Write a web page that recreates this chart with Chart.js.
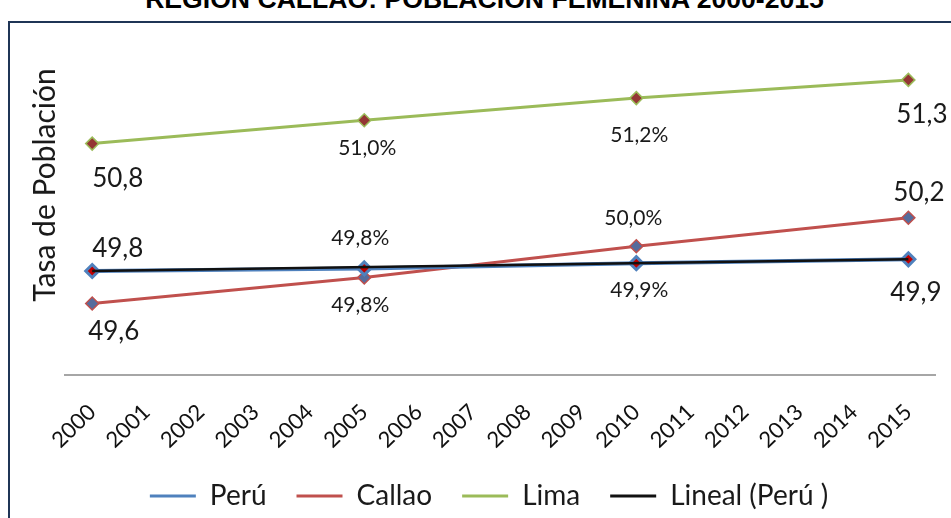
<!DOCTYPE html>
<html>
<head>
<meta charset="utf-8">
<script src="https://cdn.jsdelivr.net/npm/chart.js@4"></script>
<style>
  html, body { margin:0; padding:0; background:#fff; overflow:hidden; }
  #wrap  { position:relative; width:951px; height:518px; }
  #title { position:absolute; left:9px; width:951px; top:-14px; text-align:center; white-space:nowrap;
           font:bold 26.6px "Liberation Sans", Arial, sans-serif; line-height:26px; color:#000; }
  #frame { position:absolute; left:8px; top:21px; width:960px; height:520px;
           border-left:2px solid #1f3556; border-top:2px solid #1f3556; }
  #chart { position:absolute; left:0; top:0; }
</style>
</head>
<body>
<div id="wrap">
  <div id="title">REGIÓN CALLAO: POBLACIÓN FEMENINA 2000-2015</div>
  <div id="frame"></div>
  <canvas id="chart" width="951" height="518"></canvas>
</div>
<script>
/* data: markers only on 2000, 2005, 2010, 2015 */
const YEARS  = ["2000","2001","2002","2003","2004","2005","2006","2007",
                "2008","2009","2010","2011","2012","2013","2014","2015"];
const PERU   = [49.80,null,null,null,null,49.82,null,null,null,null,49.86,null,null,null,null,49.89];
const CALLAO = [49.55,null,null,null,null,49.75,null,null,null,null,49.99,null,null,null,null,50.21];
const LIMA   = [50.78,null,null,null,null,50.96,null,null,null,null,51.13,null,null,null,null,51.27];
const LINEAL = [49.80,null,null,null,null,null,null,null,null,null,null,null,null,null,null,49.89];

// printed value labels, one per marker
const PERU_TXT   = ["49,8", "49,8%", "49,9%", "49,9"];
const CALLAO_TXT = ["49,6", "49,8%", "50,0%", "50,2"];
const LIMA_TXT   = ["50,8", "51,0%", "51,2%", "51,3"];

const FONT = "Lato, 'Open Sans', sans-serif";

// draws the value labels next to each marker
const valueLabels = {
  id: "valueLabels",
  afterDatasetsDraw(chart, args, opts) {
    const ctx = chart.ctx;
    ctx.save();
    ctx.fillStyle = "#1a1a1a";
    ctx.textBaseline = "middle";
    opts.sets.forEach(set => {
      const meta = chart.getDatasetMeta(set.ds);
      const vals = chart.data.datasets[set.ds].data;
      let k = 0;
      meta.data.forEach((pt, i) => {
        if (vals[i] == null) return;
        const txt = set.text[k];
        const pct = txt.endsWith("%");
        ctx.font = (pct ? "21px " : "26px ") + FONT;
        ctx.textAlign = set.align[k];
        ctx.fillText(txt, pt.x + set.dx[k], pt.y + set.dy[k]);
        k++;
      });
    });
    ctx.restore();
  }
};

// y title sits above centre in the original, so draw it by hand
const yTitle = {
  id: "yTitle",
  afterDraw(chart) {
    const {ctx, chartArea} = chart;
    ctx.save();
    ctx.translate(chartArea.left - 20, chartArea.top + 135);
    ctx.rotate(-Math.PI / 2);
    ctx.font = "30px " + FONT;
    ctx.fillStyle = "#1a1a1a";
    ctx.textAlign = "center";
    ctx.textBaseline = "middle";
    ctx.fillText("Tasa de Población", 0, 0);
    ctx.restore();
  }
};

const line = (label, data, color, extra) => Object.assign({
  label, data, borderColor: color, backgroundColor: color, borderWidth: 3,
  spanGaps: true, tension: 0, fill: false, order: 1,
  pointStyle: "rectRot", pointRadius: 6.5, pointHoverRadius: 6.5
}, extra);

new Chart(document.getElementById("chart"), {
  type: "line",
  data: {
    labels: YEARS,
    datasets: [
      line("Perú", PERU, "#4F81BD",
        {borderWidth: 4, pointBackgroundColor: "#C00000", pointBorderColor: "#4F81BD", pointBorderWidth: 3}),
      line("Callao", CALLAO, "#C0504D",
        {pointBackgroundColor: "#566C9C", pointBorderColor: "#C0504D", pointBorderWidth: 1.5}),
      line("Lima", LIMA, "#9BBB59",
        {pointBackgroundColor: "#943634", pointBorderColor: "#9BBB59", pointBorderWidth: 1.5}),
      line("Lineal (Perú )", LINEAL, "#111111",
        {borderWidth: 2.5, pointRadius: 0, pointHoverRadius: 0, order: 0}),
    ]
  },
  options: {
    responsive: false,
    animation: false,
    events: [],
    layout: { padding: { top: 50, left: 30, right: 3, bottom: -2 } },
    scales: {
      x: {
        offset: true,
        grid: { display: false, drawTicks: false },
        border: { display: true, color: "#A6A6A6", width: 2 },
        ticks: { color: "#111", font: { family: FONT, size: 22 }, padding: 24,
                 minRotation: 44, maxRotation: 44, autoSkip: false },
        afterFit: s => { s.height = 77; }
      },
      y: {
        min: 49, max: 51.5,
        grid: { display: false, drawTicks: false },
        border: { display: false },
        ticks: { display: false },
        afterFit: s => { s.width = 35; }
      }
    },
    plugins: {
      title: { display: false },
      tooltip: { enabled: false },
      legend: {
        position: "bottom",
        labels: {
          color: "#1a1a1a", font: { family: FONT, size: 28 },
          boxWidth: 46, boxHeight: 3, padding: 30,
          sort: (a, b) => a.datasetIndex - b.datasetIndex,
          generateLabels: chart => Chart.defaults.plugins.legend.labels.generateLabels(chart)
            .map(l => Object.assign(l, { lineWidth: 0 }))
        }
      },
      valueLabels: {
        sets: [
          { ds: 0, text: PERU_TXT,   dx: [0, -4, 3, -18], dy: [-22, -30, 27, 33],
            align: ["left", "center", "center", "left"] },
          { ds: 1, text: CALLAO_TXT, dx: [-4, -4, -3, -15], dy: [28, 28, -28, -25],
            align: ["left", "center", "center", "left"] },
          { ds: 2, text: LIMA_TXT,   dx: [0, 3, 3, -12], dy: [35, 28, 37, 35],
            align: ["left", "center", "center", "left"] },
        ]
      }
    }
  },
  plugins: [valueLabels, yTitle]
});
</script>
</body>
</html>
